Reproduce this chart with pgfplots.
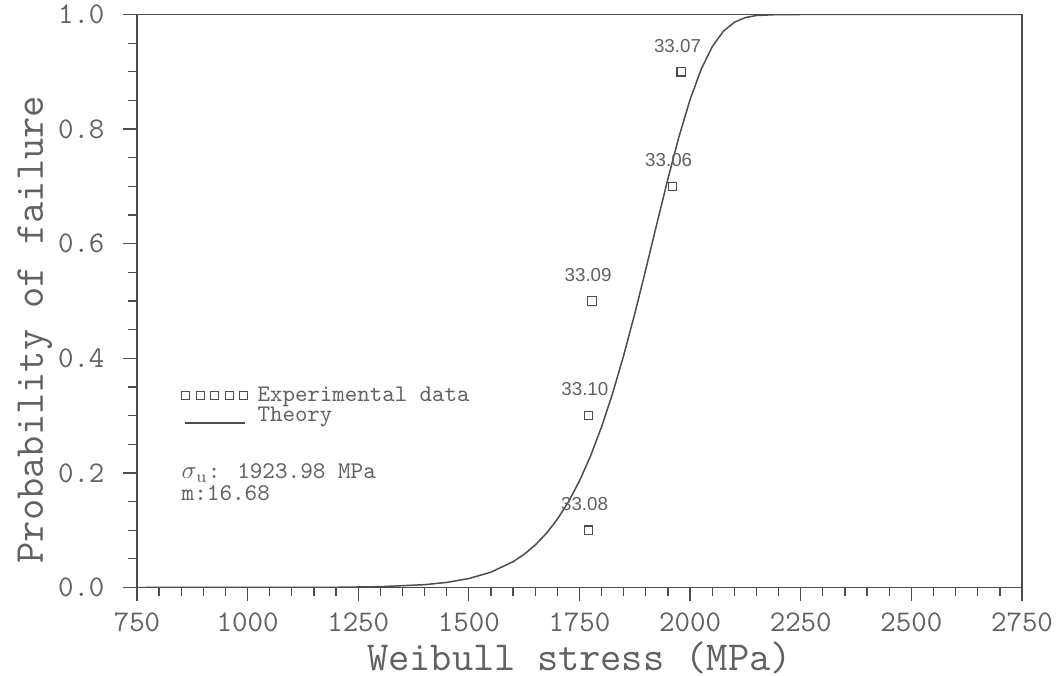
\documentclass[border=0pt]{standalone}
\usepackage{fontspec}
\usepackage{pgfplots}
\pgfplotsset{compat=1.18}
\usetikzlibrary{calc}
\newfontfamily\lsans{Liberation Sans}
\definecolor{ink}{gray}{0.3}
\definecolor{txt}{gray}{0.38}

\begin{document}
\begin{tikzpicture}
\begin{axis}[
  name=ax,
  scale only axis, width=354pt, height=229.2pt,
  xmin=750, xmax=2750, ymin=0, ymax=1,
  xtick={750,1000,1250,1500,1750,2000,2250,2500,2750},
  ytick={0,0.2,0.4,0.6,0.8,1.0},
  minor x tick num=4, minor y tick num=3,
  tick align=outside, xtick pos=left, ytick pos=left,
  major tick length=5.5pt, minor tick length=3.5pt,
  axis line style={ink, line width=0.6pt},
  every tick/.style={ink, line width=0.5pt},
  /pgf/number format/assume math mode=true,
  /pgf/number format/1000 sep={},
  ticklabel style={font=\fontsize{12}{14}\selectfont\ttfamily, text=txt},
  xticklabel style={yshift=-1pt},
  yticklabel style={xshift=-4pt},
  yticklabel={\pgfmathprintnumber[fixed,fixed zerofill,precision=1]{\tick}},
  xlabel={Weibull stress (MPa)},
  ylabel={Probability of failure},
  label style={font=\fontsize{16.5}{18}\selectfont\ttfamily, text=txt, inner sep=0pt},
  xlabel style={at={(axis description cs:0.5,-0.122)}, anchor=center},
  ylabel style={at={(axis description cs:-0.1153,0.45)}, anchor=center},
  legend style={at={(axis cs:849,0.36)}, anchor=north west, draw=none, fill=none,
    font=\fontsize{9.5}{10}\selectfont\ttfamily, text=txt, row sep=-3pt, inner sep=0pt},
  legend cell align=left,
]
\addplot[only marks, mark=square, mark size=1.7pt, mark options={ink, line width=0.45pt},
  nodes near coords, point meta=explicit symbolic,
  every node near coord/.append style={font=\fontsize{7.5}{8}\selectfont\lsans, text=txt, anchor=center, yshift=10.5pt, xshift=-1.5pt},
  legend image code/.code={%
    \foreach \k in {0,1,2,3,4}{\draw[ink, line width=0.45pt] ({\k*5.8pt},-1.6pt) rectangle ++(3.2pt,3.2pt);}%
    \path (28pt,0);%
  }]
  table[meta=label]{
x y label
1770 0.1 33.08
1770.6 0.3 33.10
1778 0.5 33.09
1960 0.7 33.06
1980 0.9 33.07
};
\addlegendentry{Experimental data}
\addplot[ink, line width=0.6pt,
  legend image code/.code={\draw[ink, line width=0.6pt] (1.2pt,-2.5pt) -- (25.2pt,-2.5pt);\path (28pt,0);}]
  coordinates {
(750,0.0000002) (1000,0.0000181) (1100,0.000089) (1200,0.00038) (1300,0.00145)
(1400,0.00496) (1450,0.00889) (1500,0.0156) (1550,0.0268) (1600,0.0451)
(1625,0.0580) (1650,0.0742) (1675,0.0943) (1700,0.1192) (1725,0.1494)
(1750,0.1860) (1775,0.2295) (1800,0.2806) (1825,0.3393) (1850,0.4054)
(1875,0.4782) (1900,0.5557) (1925,0.6354) (1950,0.7139) (1975,0.7872)
(2000,0.8517) (2025,0.9044) (2050,0.9439) (2075,0.9706) (2100,0.9865)
(2125,0.9947) (2150,0.9983) (2200,0.99991) (2250,1.0) (2750,1.0)
};
\addlegendentry{Theory}
\node[anchor=west, font=\fontsize{9.6}{11}\selectfont\ttfamily, text=txt, inner sep=0pt]
  at (axis cs:850,0.199) {$\sigma_{\mathrm{u}}$: 1923.98 MPa};
\node[anchor=west, font=\fontsize{9.6}{11}\selectfont\ttfamily, text=txt, inner sep=0pt]
  at (axis cs:850,0.164) {m:16.68};
\end{axis}
\pgfresetboundingbox
\path ($(ax.south west)+(-54.8pt,-35.4pt)$) rectangle ($(ax.north east)+(14.4pt,5.8pt)$);
\end{tikzpicture}
\end{document}
